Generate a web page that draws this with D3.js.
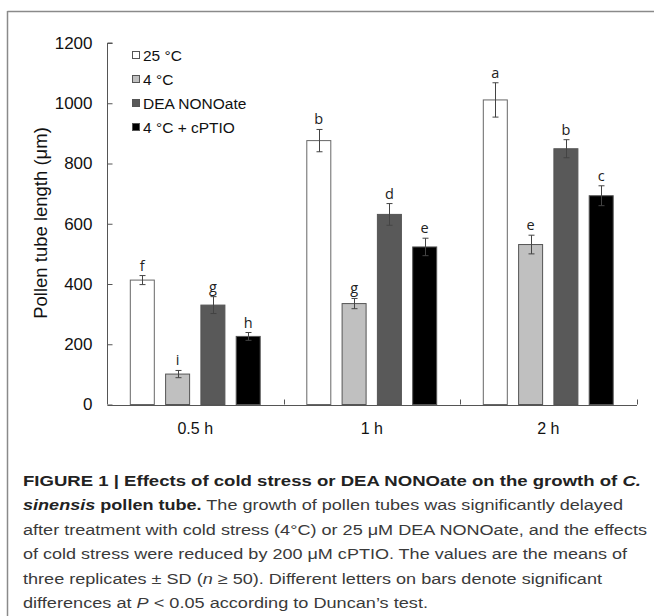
<!DOCTYPE html>
<html>
<head>
<meta charset="utf-8">
<script src="https://cdn.jsdelivr.net/npm/d3@7"></script>
<style>
  body { margin: 0; background: #fff; }
  svg { display: block; font-family: "Liberation Sans", Arial, sans-serif; }
</style>
</head>
<body>
<div id="chart"></div>
<script>
// data
var groups = ["0.5 h", "1 h", "2 h"];
var series = ["25 °C", "4 °C", "DEA NONOate", "4 °C + cPTIO"];
var colors = ["#ffffff", "#c0c0c0", "#595959", "#000000"];
var means = [
  [413, 101, 330, 226],
  [876, 335, 631, 523],
  [1011, 531, 849, 693]
];
var sds = [
  [15, 12, 28, 13],
  [37, 17, 36, 29],
  [57, 31, 30, 33]
];
var letters = [
  ["f", "i", "g", "h"],
  ["b", "g", "d", "e"],
  ["a", "e", "b", "c"]
];
var yTicks = [0, 200, 400, 600, 800, 1000, 1200];

var width = 654, height = 616;

var svg = d3.select("#chart").append("svg")
  .attr("width", width)
  .attr("height", height);

// frame lines (top and left only)
svg.append("line").attr("x1", 7.5).attr("x2", width).attr("y1", 11.5).attr("y2", 11.5)
  .attr("stroke", "#8a8a8a").attr("stroke-width", 1.5);
svg.append("line").attr("x1", 7.5).attr("x2", 7.5).attr("y1", 11).attr("y2", height)
  .attr("stroke", "#8a8a8a").attr("stroke-width", 1.5);

// scales
var y = d3.scaleLinear().domain([0, 1200]).range([404.5, 43]);
var x = d3.scaleBand().domain(groups).range([107, 636.5]);
var xs = d3.scaleBand().domain(series).range([0, x.bandwidth()])
  .paddingInner(0.32).paddingOuter(0.66);

// rows for bars
var rows = [];
groups.forEach(function(g, i) {
  series.forEach(function(s, j) {
    rows.push({g: g, s: s, j: j, v: means[i][j], sd: sds[i][j], lab: letters[i][j]});
  });
});

// bars
svg.append("g").selectAll("rect")
  .data(rows)
  .enter()
  .append("rect")
    .attr("x", function(d) { return x(d.g) + xs(d.s); })
    .attr("y", function(d) { return y(d.v); })
    .attr("width", xs.bandwidth())
    .attr("height", function(d) { return y(0) - y(d.v); })
    .attr("fill", function(d) { return colors[d.j]; })
    .attr("stroke", function(d) { return d.j == 0 ? "#666" : "#555"; })
    .attr("stroke-width", 1);

// error bars
var eb = svg.append("g").attr("stroke", "#444").attr("stroke-width", 1);
rows.forEach(function(d) {
  var cx = Math.round(x(d.g) + xs(d.s) + xs.bandwidth() / 2) + 0.5;
  eb.append("line").attr("x1", cx).attr("x2", cx).attr("y1", y(d.v + d.sd)).attr("y2", y(d.v - d.sd));
  eb.append("line").attr("x1", cx - 3).attr("x2", cx + 3).attr("y1", y(d.v + d.sd)).attr("y2", y(d.v + d.sd));
  eb.append("line").attr("x1", cx - 3).attr("x2", cx + 3).attr("y1", y(d.v - d.sd)).attr("y2", y(d.v - d.sd));
});

// significance letters
svg.append("g").selectAll("text")
  .data(rows)
  .enter()
  .append("text")
    .attr("x", function(d) { return x(d.g) + xs(d.s) + xs.bandwidth() / 2; })
    .attr("y", function(d) { return y(d.v + d.sd) - 5; })
    .attr("text-anchor", "middle")
    .attr("font-family", "'Open Sans', 'Noto Sans', sans-serif")
    .attr("font-size", 14.5)
    .attr("fill", "#222")
    .text(function(d) { return d.lab; });

// y axis
var yAxis = svg.append("g")
  .attr("transform", "translate(107.5,0)")
  .call(d3.axisRight(y).tickValues(yTicks).tickSize(5).tickFormat(d3.format("d")));
yAxis.select(".domain").attr("stroke", "#555").attr("d", "M5," + y(1200) + "H0V" + y(0));
yAxis.selectAll(".tick line").attr("stroke", "#555");
yAxis.selectAll(".tick text")
  .attr("x", -15)
  .attr("text-anchor", "end")
  .attr("font-family", "'Liberation Sans', Arial, sans-serif")
  .attr("font-size", 17)
  .attr("fill", "#111");

// x axis
var xAxis = svg.append("g")
  .attr("transform", "translate(0," + (y(0) + 0.5) + ")")
  .call(d3.axisBottom(x).tickSize(0).tickPadding(18));
xAxis.select(".domain").attr("stroke", "#555");
xAxis.selectAll(".tick text")
  .attr("font-family", "'Liberation Sans', Arial, sans-serif")
  .attr("font-size", 16)
  .attr("fill", "#111");
// group separator ticks
svg.append("g").selectAll("line")
  .data(groups)
  .enter()
  .append("line")
    .attr("x1", function(d) { return Math.round(x(d) + x.bandwidth()) + 0.5; })
    .attr("x2", function(d) { return Math.round(x(d) + x.bandwidth()) + 0.5; })
    .attr("y1", y(0))
    .attr("y2", y(0) - 5)
    .attr("stroke", "#555");

// y label
svg.append("text")
  .attr("transform", "translate(47,223) rotate(-90)")
  .attr("text-anchor", "middle")
  .attr("font-size", 18.5)
  .attr("fill", "#111")
  .text("Pollen tube length (μm)");

// legend
var leg = svg.append("g").selectAll("g")
  .data(series)
  .enter()
  .append("g")
    .attr("transform", function(d, i) { return "translate(132," + (55 + i * 24) + ")"; });
leg.append("rect")
  .attr("x", 0.5).attr("y", -3.5).attr("width", 7).attr("height", 7)
  .attr("fill", function(d, i) { return colors[i]; })
  .attr("stroke", "#555").attr("stroke-width", 1);
leg.append("text")
  .attr("x", 11).attr("y", 5.5)
  .attr("font-size", 15.5)
  .attr("fill", "#111")
  .text(function(d) { return d; });

// caption
var capLines = [
  {w: 618, parts: [["FIGURE 1 | Effects of cold stress or DEA NONOate on the growth of ", "b"], ["C.", "bi"]]},
  {w: 600, parts: [["sinensis", "bi"], [" pollen tube.", "b"], [" The growth of pollen tubes was significantly delayed", ""]]},
  {w: 624, parts: [["after treatment with cold stress (4°C) or 25 μM DEA NONOate, and the effects", ""]]},
  {w: 604, parts: [["of cold stress were reduced by 200 μM cPTIO. The values are the means of", ""]]},
  {w: 579, parts: [["three replicates ± SD (", ""], ["n", "i"], [" ≥ 50). Different letters on bars denote significant", ""]]},
  {w: 405, parts: [["differences at ", ""], ["P", "i"], [" < 0.05 according to Duncan’s test.", ""]]}
];
var cap = svg.append("g");
capLines.forEach(function(line, i) {
  var t = cap.append("text")
    .attr("x", 23)
    .attr("y", 486 + i * 24.4)
    .attr("font-size", 15.5)
    .attr("fill", "#3a3a3a")
    .attr("textLength", line.w)
    .attr("lengthAdjust", "spacingAndGlyphs");
  line.parts.forEach(function(p) {
    t.append("tspan")
      .attr("font-weight", p[1].indexOf("b") >= 0 ? "bold" : null)
      .attr("font-style", p[1].indexOf("i") >= 0 ? "italic" : null)
      .attr("fill", p[1].indexOf("b") >= 0 ? "#222" : null)
      .text(p[0]);
  });
});
</script>
</body>
</html>
